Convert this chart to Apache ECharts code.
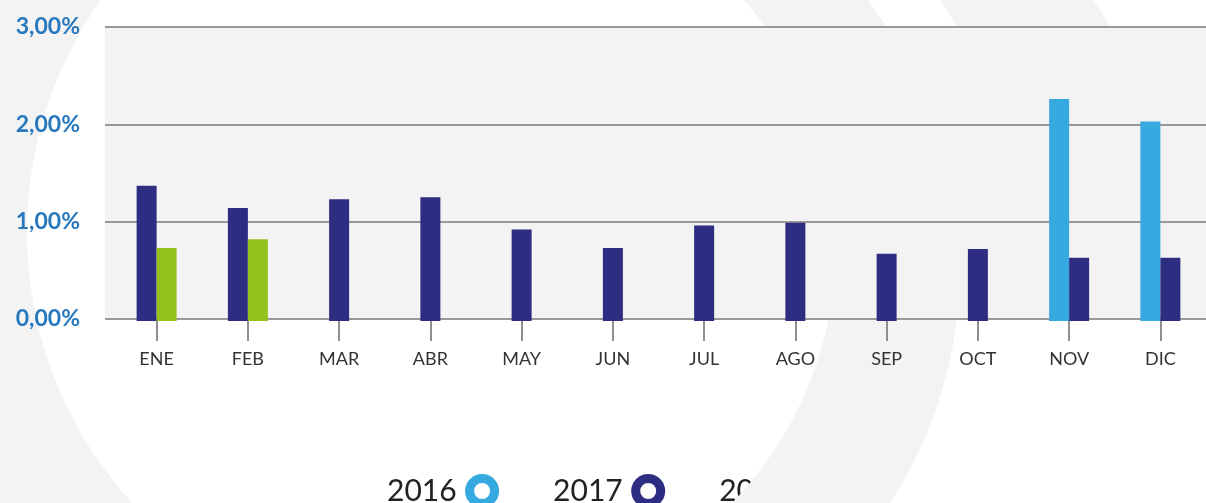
<!DOCTYPE html>
<html>
<head>
<meta charset="utf-8">
<script src="https://cdn.jsdelivr.net/npm/echarts@6/dist/echarts.min.js"></script>
<style>
html,body{margin:0;padding:0;background:#fff;}
#chart{width:1206px;height:503px;}
</style>
</head>
<body>
<div id="chart"></div>
<script>
// ---- data ----
const categories = ['ENE','FEB','MAR','ABR','MAY','JUN','JUL','AGO','SEP','OCT','NOV','DIC'];
const years = ['2016','2017','2018'];
const v2016 = [null,null,null,null,null,null,null,null,null,null,2.26,2.03];
const v2017 = [1.37,1.14,1.23,1.25,0.92,0.73,0.96,0.99,0.67,0.72,0.63,0.63];
const v2018 = [0.73,0.82,null,null,null,null,null,null,null,null,null,null];
const yTicks = [0,1,2,3];
const yTickLabels = ['0,00%','1,00%','2,00%','3,00%'];

// ---- styles ----
const colors = ['#36a9e0','#2d2d82','#95c11f'];
const GREY = '#f3f3f3';
const seriesValues = [v2016, v2017, v2018];
const BAR_W = 20;

// decorative background geometry (sampled arcs)
function circX(c, y, side){ return c[0] + side*Math.sqrt(c[2]*c[2]-(y-c[1])*(y-c[1])); }
const C1 = [429,232,402];   // left white disc edge
const Ci = [464,245,372];   // inner edge of grey band
const C2 = [528,267,432];   // outer edge of grey band
function arcPts(c, ya, yb, side){
  const pts = [];
  const n = 60;
  for (let k=0;k<=n;k++){ const y = ya + (yb-ya)*k/n; pts.push([circX(c,y,side), y]); }
  return pts;
}
function bandPts(ya, yb){
  return arcPts(C2, ya, yb, 1).concat(arcPts(Ci, yb, ya, 1));
}
function leftPts(){
  return [[0,0]].concat(arcPts(C1, 0, 503, -1)).concat([[0,503]]);
}

function makeRender(s){
  return function(params, api){
    const i = api.value(0), v = api.value(1);
    const present = [0,1,2].filter(k => seriesValues[k][i] != null);
    const p = present.indexOf(s), n = present.length;
    const base = api.coord([i,0]);
    const top = api.coord([i,v]);
    const x = base[0] + (p - n/2)*BAR_W;
    return {type:'rect', shape:{x:x, y:top[1], width:BAR_W, height:base[1]-top[1]+2},
            style:{fill:colors[s]}};
  };
}

const series = years.map((y,s)=>({
  name:y, type:'custom', xAxisIndex:1, yAxisIndex:1,
  itemStyle:{color:colors[s]},
  renderItem: makeRender(s),
  encode:{x:0,y:1},
  data: seriesValues[s].map((v,i)=> v==null?null:[i,v]).filter(Boolean),
  z:3
}));

const chart = echarts.init(document.getElementById('chart'));
chart.setOption({
  backgroundColor:'#ffffff',
  animation:false,
  textStyle:{fontFamily:'Lato'},
  graphic:[
    {type:'polygon', shape:{points:leftPts()}, style:{fill:GREY}, z:-10, silent:true},
    {type:'polygon', shape:{points:bandPts(0,503)}, style:{fill:GREY}, z:-10, silent:true},
    {type:'polygon', shape:{points:[[940,0],[1093,0],[1112,28],[958,28]]}, style:{fill:GREY}, z:-10, silent:true},
    {type:'polygon', shape:{points:bandPts(430,503)}, style:{fill:GREY}, z:50, silent:true}
  ],
  grid:[
    {left:105, right:0, top:27, bottom:184, show:true, backgroundColor:GREY, borderWidth:0},
    {left:111, right:-1, top:27, bottom:184}
  ],
  xAxis:[
    {gridIndex:0, type:'category', data:categories, show:false},
    {gridIndex:1, type:'category', data:categories,
     axisLine:{show:false},
     axisTick:{show:true, alignWithLabel:true, length:22, lineStyle:{color:'#8f8f8f', width:2}},
     axisLabel:{margin:31, fontSize:18, color:'#333333', fontFamily:'Lato'}}
  ],
  yAxis:[
    {gridIndex:0, type:'value', min:0, max:3, interval:1,
     axisLine:{show:false}, axisTick:{show:false},
     splitLine:{show:true, lineStyle:{color:'#999999', width:2}},
     axisLabel:{margin:25, fontSize:23, fontWeight:'bold', color:'#2878be', fontFamily:'Lato',
       formatter:v=>yTickLabels[yTicks.indexOf(v)]}},
    {gridIndex:1, type:'value', min:0, max:3, interval:1, show:false, splitLine:{show:false}}
  ],
  legend:{
    left:382, top:469, icon:'circle', align:'right',
    itemWidth:25, itemHeight:25, itemGap:54,
    textStyle:{fontSize:30, color:'#222222', fontFamily:'Lato', padding:[0,8,0,0]},
    data: years.map((y,s)=>({name:y, itemStyle:{color:'#ffffff', borderColor:colors[s], borderWidth:9}})),
    selectedMode:false, z:4
  },
  series: series
});
</script>
</body>
</html>
